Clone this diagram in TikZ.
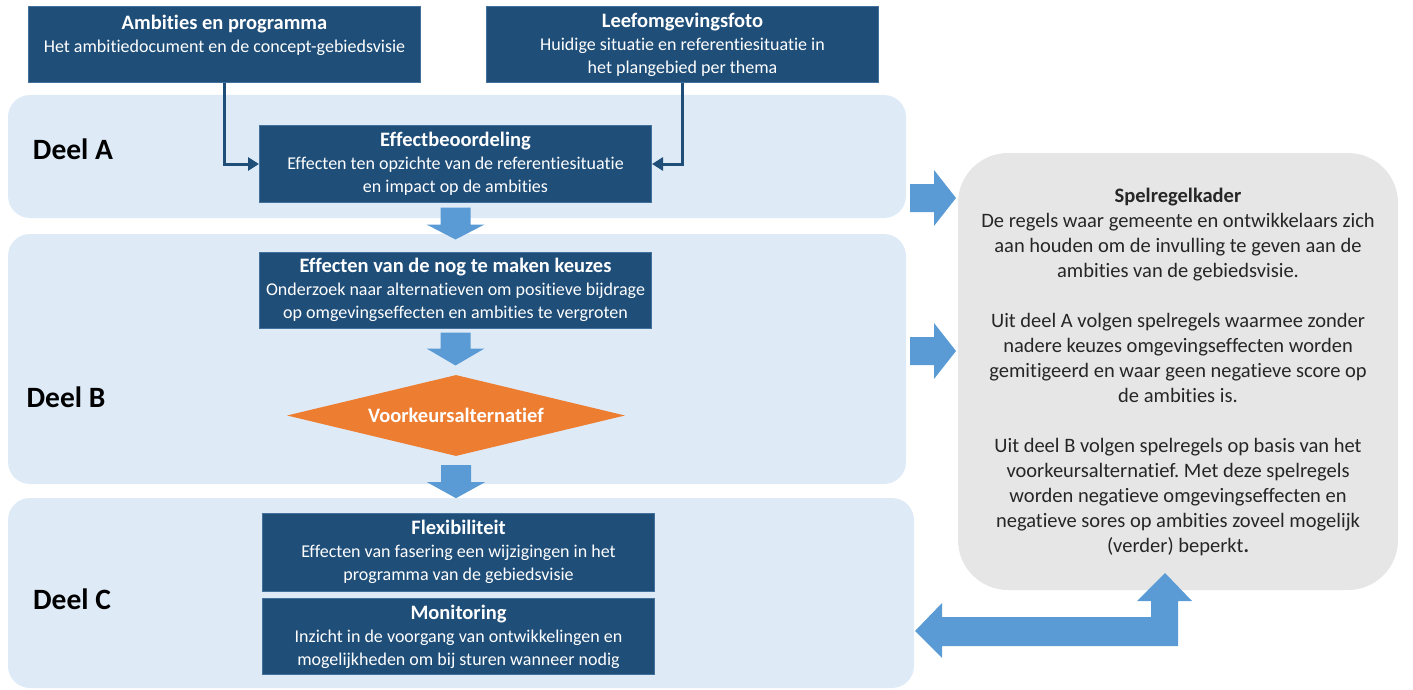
\documentclass[tikz,border=0pt]{standalone}
\usepackage{fontspec}
\setmainfont[Ligatures=NoCommon]{Carlito}
\usepackage{tikz}
\usetikzlibrary{calc,arrows.meta,shapes.geometric}
\frenchspacing

\definecolor{boxblue}{HTML}{1F4E79}
\definecolor{boxedge}{HTML}{41719C}
\definecolor{bandblue}{HTML}{DEEBF7}
\definecolor{arrowblue}{HTML}{5B9BD5}
\definecolor{kadergrey}{HTML}{E7E6E6}
\definecolor{preforange}{HTML}{ED7D31}

\tikzset{
	band/.style={fill=bandblue, rounded corners=22pt, inner sep=0pt},
	deel/.style={font=\bfseries\fontsize{29.5}{30}\selectfont},
	stepbox/.style={fill=boxblue, draw=boxedge, line width=1pt, text=white, align=center, inner sep=0pt, minimum width=392pt, minimum height=76pt, font=\fontsize{18}{23}\selectfont},
	link/.style={draw=boxblue, line width=3pt, -{Triangle[length=11pt,width=13pt]}},
}
\newcommand{\boxtitle}[1]{{\bfseries\fontsize{20.5}{23}\selectfont #1}}
%block arrow: start, angle, length, half shaft, half head, head length
\newcommand{\blockarrow}[6]{%
	\fill[arrowblue,shift={#1},rotate=#2] (0,-#4) -- (#3-#6,-#4) -- (#3-#6,-#5) -- (#3,0) -- (#3-#6,#5) -- (#3-#6,#4) -- (0,#4) -- cycle;
}

\begin{document}
\begin{tikzpicture}[x=1pt,y=-1pt]
		\useasboundingbox (0,0) rectangle (1413,690);
		
		%bands
		\node[band, minimum width=898pt, minimum height=123pt] (bandA) at (457,156.5) {};
		\node[band, minimum width=898pt, minimum height=250pt] (bandB) at (457,359) {};
		\node[band, minimum width=906pt, minimum height=190pt] (bandC) at (461,593) {};
		\node[deel] (deelA) at (73,149) {Deel A};
		\node[deel] (deelB) at (66,397) {Deel B};
		\node[deel] (deelC) at (72,599) {Deel C};
		
		%input
		\node[stepbox] (ambities) at (224.5,45) {\boxtitle{Ambities en programma}\\Het ambitiedocument en de concept-gebiedsvisie\\\mbox{}};
		\node[stepbox] (leef) at (682.5,45) {\boxtitle{Leefomgevingsfoto}\\Huidige situatie en referentiesituatie in\\het plangebied per thema};
		
		%steps
		\node[stepbox] (effect) at (455.5,164) {\boxtitle{Effectbeoordeling}\\Effecten ten opzichte van de referentiesituatie\\en impact op de ambities};
		\node[stepbox] (keuzes) at (455.5,290) {\boxtitle{Effecten van de nog te maken keuzes}\\Onderzoek naar alternatieven om positieve bijdrage\\op omgevingseffecten en ambities te vergroten};
		\node[diamond, aspect=4.2, fill=preforange, text=white, inner sep=0pt, minimum width=338pt, minimum height=81pt, font=\bfseries\fontsize{20.5}{22}\selectfont] (pref) at (456,415.5) {Voorkeursalternatief};
		\node[stepbox, minimum height=78pt] (flex) at (458.5,552) {\boxtitle{Flexibiliteit}\\Effecten van fasering een wijzigingen in het\\programma van de gebiedsvisie};
		\node[stepbox] (monitor) at (458.5,636.5) {\boxtitle{Monitoring}\\Inzicht in de voorgang van ontwikkelingen en\\mogelijkheden om bij sturen wanneer nodig};
		
		%kader
		\node[fill=kadergrey, rounded corners=50pt, minimum width=440pt, minimum height=437pt, align=center, text=black!85, font=\fontsize{20.5}{25}\selectfont] (kader) at (1178,371.5) {\textbf{Spelregelkader}\\De regels waar gemeente en ontwikkelaars zich\\aan houden om de invulling te geven aan de\\ambities van de gebiedsvisie.\\[25pt]Uit deel A volgen spelregels waarmee zonder\\nadere keuzes omgevingseffecten worden\\gemitigeerd en waar geen negatieve score op\\de ambities is.\\[25pt]Uit deel B volgen spelregels op basis van het\\voorkeursalternatief. Met deze spelregels\\worden negatieve omgevingseffecten en\\negatieve sores op ambities zoveel mogelijk\\(verder) beperkt\textbf{.}};
		
		%links
		\draw[link] (ambities.south) |- (effect.west);
		\draw[link] (leef.south) |- (effect.east);
		
		%block arrows
		\blockarrow{($(effect.south)+(0,5)$)}{-90}{32}{15}{29}{15}
		\blockarrow{($(keuzes.south)+(0,4)$)}{-90}{33}{15}{29}{17}
		\blockarrow{($(pref.south)+(0,9)$)}{-90}{33}{15}{29}{16}
		\blockarrow{(910,198)}{0}{46}{14}{28}{22}
		\blockarrow{(910,351)}{0}{46}{14}{28}{22}
		%terug
		\fill[arrowblue] (915,631) -- (942,603) -- (942,617) -- (1151,617) -- (1151,601) -- (1137,601) -- (1165,573) -- (1192,601) -- (1178,601) -- (1178,646) -- (942,646) -- (942,658) -- cycle;
		
\end{tikzpicture}
\end{document}
